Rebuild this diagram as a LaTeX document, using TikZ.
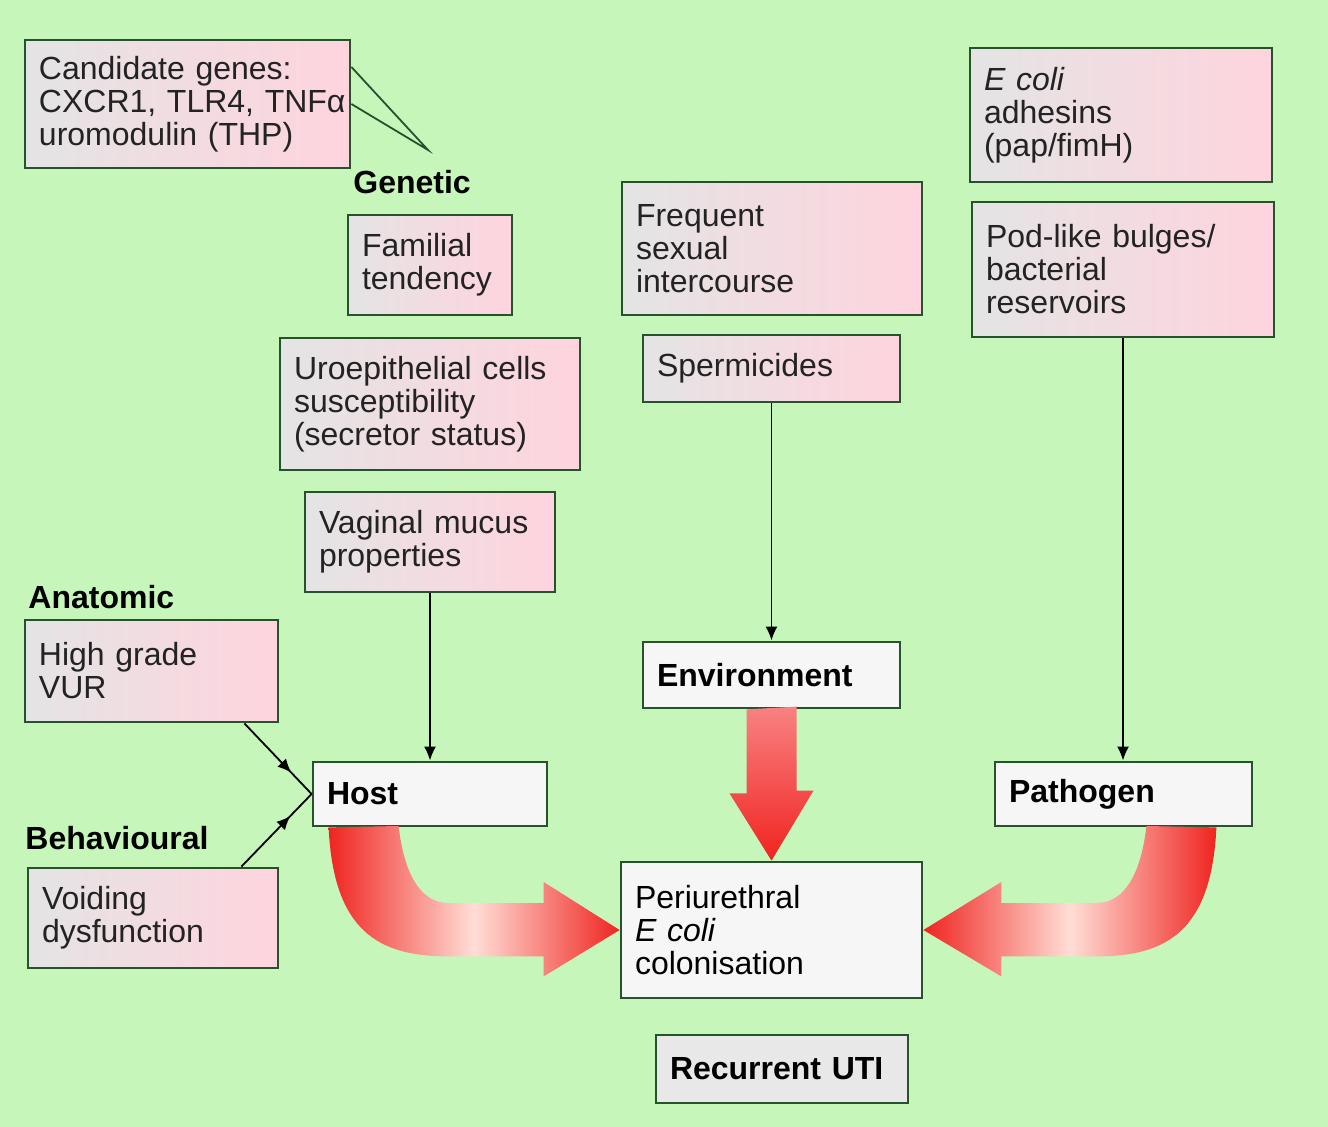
\documentclass[tikz,border=0pt]{standalone}
\usepackage{fontspec}
\setmainfont{Liberation Sans}
\usetikzlibrary{arrows.meta,calc,decorations.markings}

\definecolor{bggreen}{RGB}{198,246,186}
\definecolor{boxline}{RGB}{38,82,44}
\definecolor{boxgrey}{RGB}{228,228,228}
\definecolor{boxpink}{RGB}{255,212,222}
\definecolor{corefill}{RGB}{246,246,246}
\definecolor{utifill}{RGB}{232,232,232}
\definecolor{textgrey}{RGB}{35,35,35}
\definecolor{arrowred}{RGB}{240,36,32}
\definecolor{arrowpink}{RGB}{248,130,130}
\definecolor{arrowpale}{RGB}{255,222,214}

\tikzset{
  factor/.style={draw=boxline, line width=1.4pt, left color=boxgrey, right color=boxpink,
    align=left, inner xsep=7pt, inner ysep=0pt, text=textgrey,
    font=\fontsize{16}{16.5}\selectfont},
  core/.style={draw=boxline, line width=1.4pt, fill=corefill,
    align=left, inner xsep=7pt, inner ysep=0pt,
    font=\bfseries\fontsize{16}{16.5}\selectfont},
  group/.style={inner sep=0pt, anchor=west, font=\bfseries\fontsize{16}{16.5}\selectfont},
  thin/.style={draw=black, line width=0.9pt, -{Latex[length=7pt,width=6pt]}},
  midarrow/.style={draw=black, line width=0.9pt, postaction={decorate},
    decoration={markings, mark=at position 0.7 with {\arrow{Latex[length=7pt,width=6pt]}}}},
  callout/.style={draw=boxline, line width=0.9pt},
}

\begin{document}
\begin{tikzpicture}[x=0.5pt, y=-0.5pt]
  \path[use as bounding box, fill=bggreen] (0,0) rectangle (1328,1127);

  % host factors
  \node[factor, text width=148.5pt, minimum height=64pt] (genes) at (187.5,104)
    {Candidate genes:\\\mbox{CXCR1, TLR4, TNFα}\\uromodulin (THP)};
  \node[group] (genetic) at (353,182) {Genetic};
  \coordinate (genetictip) at (428,150);
  \node[factor, text width=68pt, minimum height=50pt] (familial) at (430,265) {Familial\\tendency};
  \node[factor, text width=136pt, minimum height=66pt] (uroepi) at (430,404)
    {Uroepithelial cells\\susceptibility\\(secretor status)};
  \node[factor, text width=111pt, minimum height=50pt] (mucus) at (430,542) {Vaginal mucus\\properties};
  \node[group] (anatomic) at (28,597) {Anatomic};
  \node[factor, text width=112.5pt, minimum height=51pt] (vur) at (151.5,671) {High grade\\VUR};
  \node[group] (behav) at (25,838) {Behavioural};
  \node[factor, text width=111pt, minimum height=50pt] (voiding) at (153,918) {Voiding\\dysfunction};
  \node[core, text width=103pt, minimum height=32pt] (host) at (430,794) {Host};

  % environment factors
  \node[factor, text width=136pt, minimum height=66.5pt] (sexual) at (772,248.5)
    {Frequent\\sexual\\intercourse};
  \node[factor, text width=114.5pt, minimum height=33.5pt] (sperm) at (771.5,368.5) {Spermicides};
  \node[core, text width=114.5pt, minimum height=33pt] (env) at (771.5,675) {Environment};

  % pathogen factors
  \node[factor, text width=137pt, minimum height=67pt] (adhesins) at (1121,115)
    {\textit{E coli}\\adhesins\\(pap/fimH)};
  \node[factor, text width=137pt, minimum height=67.5pt] (pods) at (1123,269.5)
    {Pod-like bulges/\\bacterial\\reservoirs};
  \node[core, text width=114.5pt, minimum height=32pt] (pathogen) at (1123.5,794) {Pathogen};

  % outcome
  \node[core, font=\fontsize{16}{16.5}\selectfont, text width=136.5pt, minimum height=68pt] (colon)
    at (771.5,930) {Periurethral\\\textit{E coli}\\colonisation};
  \node[core, fill=utifill, text width=112pt, minimum height=34pt] (uti) at (782,1069) {Recurrent UTI};

  % thin connectors
  \draw[callout] ($(genes.east)+(0,-37)$) -- (genetictip) -- (genes.east);
  \draw[thin] (mucus.south) -- (host.north);
  \draw[thin] (sperm.south) -- (env.north);
  \draw[thin] (pods.south) -- (pods.south |- pathogen.north);
  \draw[midarrow] ($(vur.south east)+(-35,0)$) -- (host.west);
  \draw[midarrow] ($(voiding.north east)+(-38,0)$) -- (host.west);

  % fat arrows
  \shade[top color=arrowpink, bottom color=arrowred]
    ($(env.south)+(-25,0)$) -- ++(0,84) -- ++(-17,0) -- (colon.north)
    -- ++(42,-70) -- ++(-17,0) -- ++(0,-84) -- cycle;
  \shade[left color=arrowred, right color=arrowred, middle color=arrowpale]
    ($(host.south west)+(17,0)$) .. controls +(5,104) and +(-70,0) .. ++(120,129)
    -- ++(95,0) -- ++(0,20) -- (colon.west) -- ++(-76,-48) -- ++(0,21) -- ++(-95,0)
    .. controls +(-30,0) and +(5,44) .. ++(-50,-77) -- cycle;
  \shade[left color=arrowred, right color=arrowred, middle color=arrowpale]
    ($(pathogen.south east)+(-37,0)$) .. controls +(-5,104) and +(70,0) .. ++(-120,129)
    -- ++(-95,0) -- ++(0,20) -- (colon.east) -- ++(78,-48) -- ++(0,21) -- ++(95,0)
    .. controls +(30,0) and +(-5,44) .. ++(50,-77) -- cycle;
\end{tikzpicture}
\end{document}
